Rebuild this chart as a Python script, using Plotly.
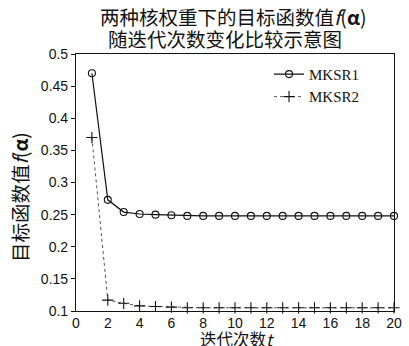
import plotly.graph_objects as go

iterations = list(range(1, 21))
mksr1 = [0.470, 0.273, 0.254, 0.251, 0.250, 0.249, 0.248, 0.248, 0.248, 0.248,
         0.248, 0.248, 0.248, 0.248, 0.248, 0.248, 0.248, 0.248, 0.248, 0.248]
mksr2 = [0.370, 0.117, 0.112, 0.108, 0.107, 0.106, 0.105, 0.105, 0.105, 0.105,
         0.105, 0.105, 0.105, 0.105, 0.105, 0.105, 0.105, 0.105, 0.105, 0.105]
x_ticks = [0, 2, 4, 6, 8, 10, 12, 14, 16, 18, 20]
y_ticks = [0.1, 0.15, 0.2, 0.25, 0.3, 0.35, 0.4, 0.45, 0.5]
y_tick_labels = ["0.1", "0.15", "0.2", "0.25", "0.3", "0.35", "0.4", "0.45", "0.5"]

title_line1 = "两种核权重下的目标函数值<i>f</i>(<b>α</b>)"
title_line2 = "随迭代次数变化比较示意图"
x_title = "迭代次数<i>t</i>"
y_title = "目标函数值<i>f</i>(<b>α</b>)"

cjk = "Noto Sans CJK SC"

fig = go.Figure()
fig.add_trace(go.Scatter(
    x=iterations, y=mksr1, name="MKSR1", mode="lines+markers",
    line=dict(color="#111111", width=1.2),
    marker=dict(symbol="circle-open", size=7, color="#111111", line=dict(width=1.1)),
    cliponaxis=False,
))
fig.add_trace(go.Scatter(
    x=iterations, y=mksr2, name="MKSR2", mode="lines+markers",
    line=dict(color="#555555", width=1, dash="dot"),
    marker=dict(symbol="cross-thin", size=8, color="#111111", line=dict(width=1.1, color="#111111")),
    cliponaxis=False,
))

fig.update_layout(
    width=409, height=346,
    margin=dict(l=76, r=7, t=54, b=35),
    paper_bgcolor="white", plot_bgcolor="white",
    font=dict(family="Liberation Sans, Arial, sans-serif", size=14, color="#111111"),
    showlegend=True,
    legend=dict(
        x=0.607, y=0.985, xanchor="left", yanchor="top",
        bgcolor="rgba(0,0,0,0)", borderwidth=0,
        font=dict(family="Liberation Serif, Times New Roman, serif", size=15, color="#111111"),
        itemwidth=30, tracegroupgap=0,
    ),
    xaxis=dict(
        range=[0, 20], tickvals=x_ticks, ticktext=[str(v) for v in x_ticks],
        showgrid=False, zeroline=False, showline=True, linecolor="#111111", linewidth=1.2,
        mirror=True, ticks="", tickcolor="#111111", ticklabeloverflow="allow",
        ticklabelstandoff=-1,
        tickfont=dict(size=14),
    ),
    yaxis=dict(
        range=[0.1, 0.5], tickvals=y_ticks, ticktext=y_tick_labels,
        showgrid=False, zeroline=False, showline=True, linecolor="#111111", linewidth=1.2,
        mirror=True, ticks="outside", ticklen=4, tickcolor="#111111",
        tickfont=dict(size=14),
    ),
    annotations=[
        dict(text=title_line1, xref="paper", yref="paper", x=0.495, y=1.145,
             xanchor="center", yanchor="middle", showarrow=False,
             font=dict(family=cjk, size=19.5, color="#111111")),
        dict(text=title_line2, xref="paper", yref="paper", x=0.47, y=1.06,
             xanchor="center", yanchor="middle", showarrow=False,
             font=dict(family=cjk, size=19.5, color="#111111")),
        dict(text=x_title, xref="paper", yref="paper", x=0.506, y=-0.108,
             xanchor="center", yanchor="middle", showarrow=False,
             font=dict(family=cjk, size=16.5, color="#111111")),
        dict(text=y_title, xref="paper", yref="paper", x=-0.178, y=0.445,
             xanchor="center", yanchor="middle", showarrow=False, textangle=-90,
             font=dict(family=cjk, size=19.5, color="#111111")),
    ],
)

fig.write_html(
    "out.html",
    config={"displayModeBar": False},
    post_script="document.body.style.margin='0';document.body.style.overflow='hidden';",
)
